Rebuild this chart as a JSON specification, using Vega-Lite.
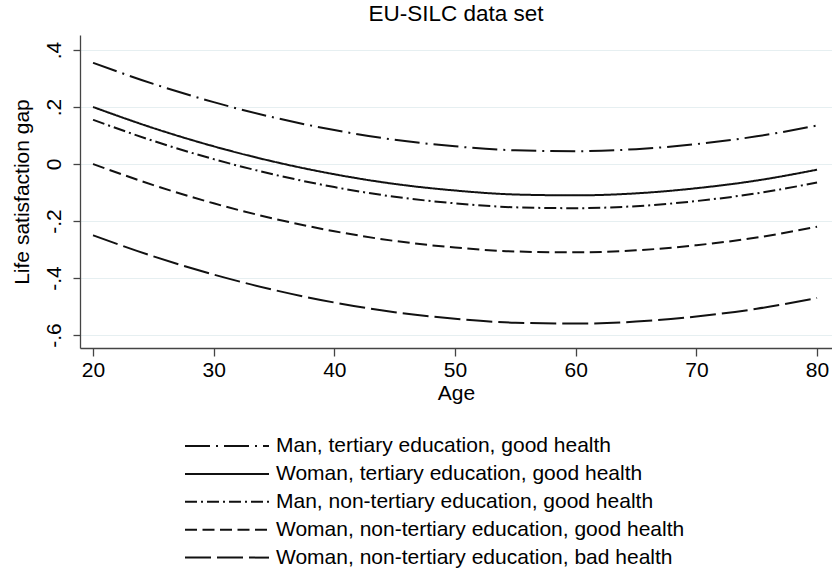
{
  "$schema": "https://vega.github.io/schema/vega-lite/v6.json",
  "autosize": {"type": "none"},
  "width": 752,
  "height": 313,
  "padding": {"left": 80, "top": 35, "right": 0, "bottom": 233},
  "background": "white",
  "config": {
    "view": {"stroke": null},
    "font": "Liberation Sans",
    "axis": {"labelFont": "Liberation Sans", "titleFont": "Liberation Sans", "labelColor": "#000", "titleColor": "#000", "titleFontWeight": "normal"},
    "legend": {"labelFont": "Liberation Sans", "labelColor": "#000"}
  },
  "title": {"text": "EU-SILC data set", "fontSize": 22.5, "fontWeight": "normal", "font": "Liberation Sans", "color": "#000", "anchor": "middle", "baseline": "bottom", "offset": -13},
  "data": {"values": [
    {"age": 20, "gap": 0.355, "group": "Man, tertiary education, good health"},
    {"age": 25, "gap": 0.281, "group": "Man, tertiary education, good health"},
    {"age": 30, "gap": 0.217, "group": "Man, tertiary education, good health"},
    {"age": 35, "gap": 0.163, "group": "Man, tertiary education, good health"},
    {"age": 40, "gap": 0.119, "group": "Man, tertiary education, good health"},
    {"age": 45, "gap": 0.085, "group": "Man, tertiary education, good health"},
    {"age": 50, "gap": 0.062, "group": "Man, tertiary education, good health"},
    {"age": 55, "gap": 0.048, "group": "Man, tertiary education, good health"},
    {"age": 60, "gap": 0.045, "group": "Man, tertiary education, good health"},
    {"age": 65, "gap": 0.052, "group": "Man, tertiary education, good health"},
    {"age": 70, "gap": 0.070, "group": "Man, tertiary education, good health"},
    {"age": 75, "gap": 0.097, "group": "Man, tertiary education, good health"},
    {"age": 80, "gap": 0.135, "group": "Man, tertiary education, good health"},
    {"age": 20, "gap": 0.200, "group": "Woman, tertiary education, good health"},
    {"age": 25, "gap": 0.126, "group": "Woman, tertiary education, good health"},
    {"age": 30, "gap": 0.062, "group": "Woman, tertiary education, good health"},
    {"age": 35, "gap": 0.008, "group": "Woman, tertiary education, good health"},
    {"age": 40, "gap": -0.036, "group": "Woman, tertiary education, good health"},
    {"age": 45, "gap": -0.070, "group": "Woman, tertiary education, good health"},
    {"age": 50, "gap": -0.093, "group": "Woman, tertiary education, good health"},
    {"age": 55, "gap": -0.107, "group": "Woman, tertiary education, good health"},
    {"age": 60, "gap": -0.110, "group": "Woman, tertiary education, good health"},
    {"age": 65, "gap": -0.103, "group": "Woman, tertiary education, good health"},
    {"age": 70, "gap": -0.085, "group": "Woman, tertiary education, good health"},
    {"age": 75, "gap": -0.058, "group": "Woman, tertiary education, good health"},
    {"age": 80, "gap": -0.020, "group": "Woman, tertiary education, good health"},
    {"age": 20, "gap": 0.155, "group": "Man, non-tertiary education, good health"},
    {"age": 25, "gap": 0.081, "group": "Man, non-tertiary education, good health"},
    {"age": 30, "gap": 0.017, "group": "Man, non-tertiary education, good health"},
    {"age": 35, "gap": -0.037, "group": "Man, non-tertiary education, good health"},
    {"age": 40, "gap": -0.081, "group": "Man, non-tertiary education, good health"},
    {"age": 45, "gap": -0.115, "group": "Man, non-tertiary education, good health"},
    {"age": 50, "gap": -0.138, "group": "Man, non-tertiary education, good health"},
    {"age": 55, "gap": -0.152, "group": "Man, non-tertiary education, good health"},
    {"age": 60, "gap": -0.155, "group": "Man, non-tertiary education, good health"},
    {"age": 65, "gap": -0.148, "group": "Man, non-tertiary education, good health"},
    {"age": 70, "gap": -0.130, "group": "Man, non-tertiary education, good health"},
    {"age": 75, "gap": -0.103, "group": "Man, non-tertiary education, good health"},
    {"age": 80, "gap": -0.065, "group": "Man, non-tertiary education, good health"},
    {"age": 20, "gap": 0.000, "group": "Woman, non-tertiary education, good health"},
    {"age": 25, "gap": -0.074, "group": "Woman, non-tertiary education, good health"},
    {"age": 30, "gap": -0.138, "group": "Woman, non-tertiary education, good health"},
    {"age": 35, "gap": -0.192, "group": "Woman, non-tertiary education, good health"},
    {"age": 40, "gap": -0.236, "group": "Woman, non-tertiary education, good health"},
    {"age": 45, "gap": -0.270, "group": "Woman, non-tertiary education, good health"},
    {"age": 50, "gap": -0.293, "group": "Woman, non-tertiary education, good health"},
    {"age": 55, "gap": -0.307, "group": "Woman, non-tertiary education, good health"},
    {"age": 60, "gap": -0.310, "group": "Woman, non-tertiary education, good health"},
    {"age": 65, "gap": -0.303, "group": "Woman, non-tertiary education, good health"},
    {"age": 70, "gap": -0.285, "group": "Woman, non-tertiary education, good health"},
    {"age": 75, "gap": -0.258, "group": "Woman, non-tertiary education, good health"},
    {"age": 80, "gap": -0.220, "group": "Woman, non-tertiary education, good health"},
    {"age": 20, "gap": -0.250, "group": "Woman, non-tertiary education, bad health"},
    {"age": 25, "gap": -0.324, "group": "Woman, non-tertiary education, bad health"},
    {"age": 30, "gap": -0.388, "group": "Woman, non-tertiary education, bad health"},
    {"age": 35, "gap": -0.442, "group": "Woman, non-tertiary education, bad health"},
    {"age": 40, "gap": -0.486, "group": "Woman, non-tertiary education, bad health"},
    {"age": 45, "gap": -0.520, "group": "Woman, non-tertiary education, bad health"},
    {"age": 50, "gap": -0.543, "group": "Woman, non-tertiary education, bad health"},
    {"age": 55, "gap": -0.557, "group": "Woman, non-tertiary education, bad health"},
    {"age": 60, "gap": -0.560, "group": "Woman, non-tertiary education, bad health"},
    {"age": 65, "gap": -0.553, "group": "Woman, non-tertiary education, bad health"},
    {"age": 70, "gap": -0.535, "group": "Woman, non-tertiary education, bad health"},
    {"age": 75, "gap": -0.508, "group": "Woman, non-tertiary education, bad health"},
    {"age": 80, "gap": -0.470, "group": "Woman, non-tertiary education, bad health"}
  ]},
  "mark": {"type": "line", "interpolate": "monotone", "color": "#111", "strokeWidth": 2},
  "encoding": {
    "x": {
      "field": "age", "type": "quantitative",
      "scale": {"domain": [18.92, 81.24], "nice": false, "zero": false},
      "axis": {
        "title": "Age", "titleFontSize": 21, "titlePadding": 2,
        "values": [20, 30, 40, 50, 60, 70, 80], "grid": false,
        "labelFontSize": 21, "labelPadding": 3, "tickSize": 8,
        "domainColor": "#444", "domainWidth": 1.3, "tickColor": "#444", "tickWidth": 1.3
      }
    },
    "y": {
      "field": "gap", "type": "quantitative",
      "scale": {"domain": [-0.6456, 0.4526], "nice": false, "zero": false},
      "axis": {
        "title": "Life satisfaction gap", "titleFontSize": 21, "titlePadding": 11,
        "values": [-0.6, -0.4, -0.2, 0, 0.2, 0.4],
        "labelExpr": "datum.value == 0 ? '0' : (datum.value < 0 ? '-' : '') + '.' + format(round(abs(datum.value) * 10), 'd')",
        "labelAngle": -90, "labelAlign": "center", "labelBaseline": "bottom",
        "labelFontSize": 21, "labelPadding": 9, "tickSize": 7,
        "grid": true, "gridColor": "#e6eff1", "gridWidth": 1,
        "domainColor": "#444", "domainWidth": 1.3, "tickColor": "#444", "tickWidth": 1.3
      }
    },
    "strokeDash": {
      "field": "group", "type": "nominal",
      "scale": {
        "domain": [
          "Man, tertiary education, good health",
          "Woman, tertiary education, good health",
          "Man, non-tertiary education, good health",
          "Woman, non-tertiary education, good health",
          "Woman, non-tertiary education, bad health"
        ],
        "range": [[25, 6, 2, 6], [1, 0], [12, 4, 2, 4], [12, 5.5], [26, 6]]
      },
      "legend": {
        "title": null, "orient": "none", "legendX": 135.5, "legendY": 399.5,
        "direction": "vertical", "padding": 0,
        "symbolType": "M-4,0L4,0", "symbolSize": 441, "symbolStrokeWidth": 2, "symbolStrokeColor": "#111",
        "labelFontSize": 21, "labelOffset": 37.5, "rowPadding": 5.9, "labelLimit": 500
      }
    }
  }
}
